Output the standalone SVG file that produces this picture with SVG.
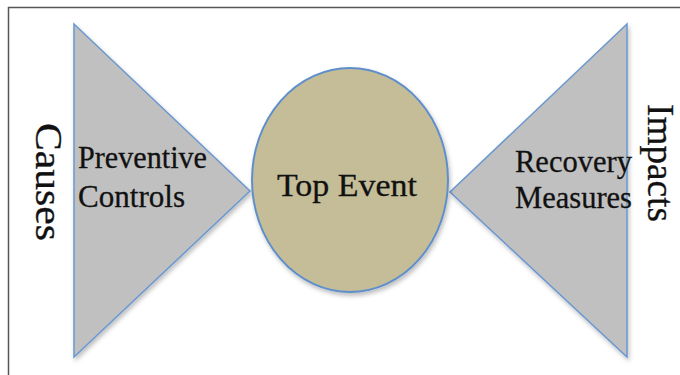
<svg xmlns="http://www.w3.org/2000/svg" width="680" height="375" viewBox="0 0 680 375">
<defs>
<filter id="sh" x="-10%" y="-10%" width="130%" height="130%">
<feDropShadow dx="1.5" dy="3" stdDeviation="2" flood-color="#000" flood-opacity="0.25"/>
</filter>
<style>
.tri{fill:#C0C0C0;stroke:#6A98D0;stroke-width:1.5;filter:url(#sh)}
.ev{fill:#C4BD97;stroke:#5F8FCB;stroke-width:2;filter:url(#sh)}
.t{font-family:"Liberation Serif","Times New Roman",serif;font-size:32px;fill:#111;stroke:#111;stroke-width:0.3}
.v{font-family:"Liberation Serif","Times New Roman",serif;font-size:37px;fill:#111;stroke:#111;stroke-width:0.3}
</style>
</defs>
<rect x="0" y="0" width="680" height="375" fill="#fff"/>
<path d="M8.5,375 V7.5 H680" fill="none" stroke="#555" stroke-width="1.5"/>
<g id="preventive">
<polygon class="tri" points="74,24 250,191 74,357"/>
<text class="t" x="78" y="168" textLength="129" lengthAdjust="spacingAndGlyphs">Preventive</text>
<text class="t" x="78" y="207" textLength="107" lengthAdjust="spacingAndGlyphs">Controls</text>
</g>
<g id="recovery">
<polygon class="tri" points="627,24 450,192 627,357"/>
<text class="t" x="515" y="172" textLength="117" lengthAdjust="spacingAndGlyphs">Recovery</text>
<text class="t" x="515" y="208" textLength="117" lengthAdjust="spacingAndGlyphs">Measures</text>
</g>
<g id="top-event">
<ellipse class="ev" cx="350" cy="180" rx="98" ry="112"/>
<text class="t" x="277" y="196" font-size="35" textLength="140" lengthAdjust="spacingAndGlyphs">Top Event</text>
</g>
<g id="causes">
<text class="v" transform="translate(36,123) rotate(90)" textLength="118" lengthAdjust="spacingAndGlyphs">Causes</text>
</g>
<g id="impacts">
<text class="v" transform="translate(648,104) rotate(90)" textLength="118" lengthAdjust="spacingAndGlyphs">Impacts</text>
</g>
<g id="connectors"></g>
</svg>
